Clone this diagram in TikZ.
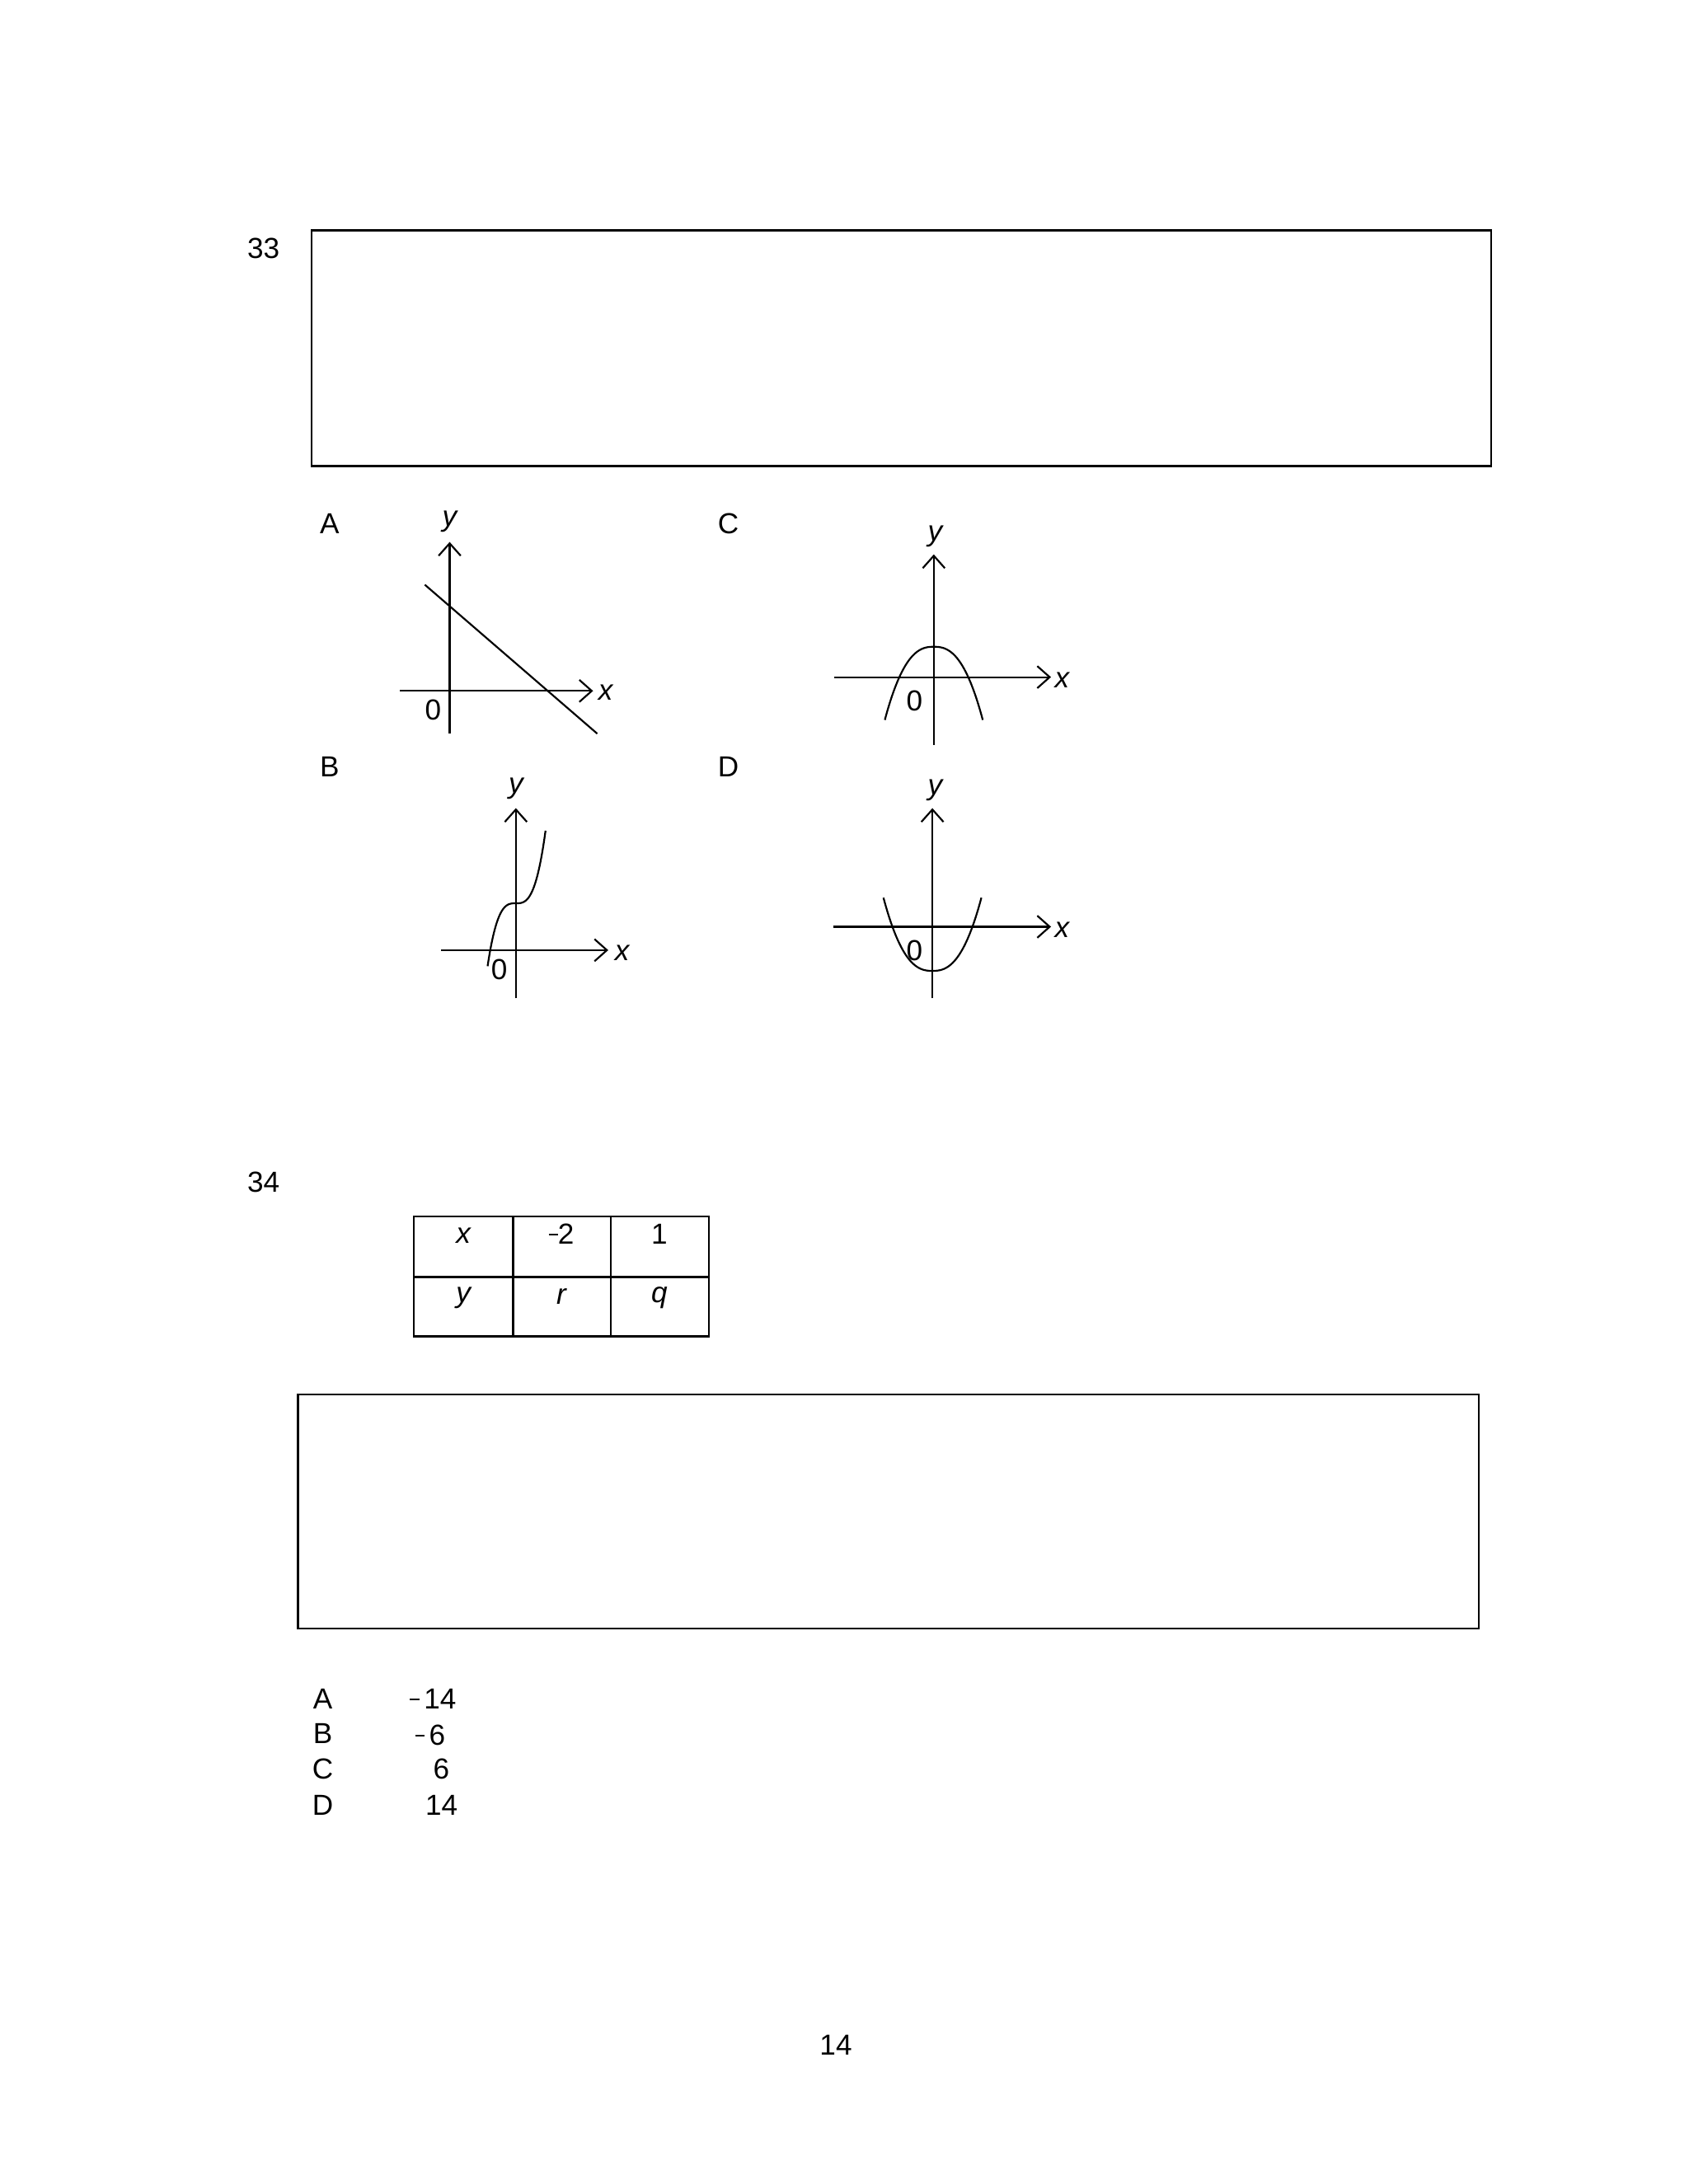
\documentclass[tikz,border=0pt]{standalone}
\usepackage{fontspec}
\setmainfont{Liberation Sans}
\usetikzlibrary{arrows.meta}
\newcommand{\shortminus}{\raisebox{0.3em}{\rule{0.32em}{1.2pt}}}
\begin{document}
\begin{tikzpicture}[x=1pt,y=-1pt,
  every node/.style={font=\fontsize{21}{25}\selectfont, inner sep=0pt},
  box/.style={line width=1.4pt},
  ax/.style={line width=1.3pt,-{Straight Barb[length=9pt,width=16pt,line width=1.3pt]}},
  crv/.style={line width=1.3pt},
  lbl/.style={font=\fontsize{21}{25}\selectfont\itshape}]
\useasboundingbox (0,0) rectangle (1224,1583.7);
\fill[white] (0,0) rectangle (1224,1583.7);
\node (q33) at (191,180) {33};
\draw[box] (226,167) rectangle (1081,338);
% A
\node (la) at (239,380) {A};
\draw[ax] (326,532) -- (326,393);
\node[lbl] (ya) at (326,378) {y};
\draw[ax] (290,501) -- (430,501);
\node[lbl] (xa) at (439,502) {x};
\node (oa) at (314,515) {0};
\draw[crv] (308,424) -- (433,532);
% C
\node (lc) at (528,380) {C};
\draw[ax] (677,540) -- (677,402);
\node[lbl] (yc) at (678,389) {y};
\draw[ax] (605,491) -- (762,491);
\node[lbl] (xc) at (770,493) {x};
\node (oc) at (663,508) {0};
\draw[crv,domain=-35.5:35.5,samples=80] plot ({677+\x},{469+0.00706*pow(abs(\x),2.5)});
% B
\node (lb) at (239,556) {B};
\draw[ax] (374,724) -- (374,586);
\node[lbl] (yb) at (374,572) {y};
\draw[ax] (320,689) -- (441,689);
\node[lbl] (xb) at (451,691) {x};
\node (ob) at (362,703) {0};
\draw[crv,domain=-20.5:21.5,samples=80] plot ({374+\x},{655-0.0053*\x*\x*\x});
% D
\node (ld) at (528,556) {D};
\draw[ax] (676,724) -- (676,586);
\node[lbl] (yd) at (678,573) {y};
\draw[ax] (604,672) -- (762,672);
\node[lbl] (xd) at (770,674) {x};
\node (od) at (663,689) {0};
\draw[crv,domain=-35.5:35.5,samples=80] plot ({676+\x},{704-0.00706*pow(abs(\x),2.5)});
% 34
\node (q34) at (191,857) {34};
\draw[box] (300,882) rectangle (514,969);
\draw[box] (300,926) -- (514,926);
\draw[box] (372,882) -- (372,969);
\draw[box] (443,882) -- (443,969);
\node[lbl] (t1) at (336,896) {x};
\node (t2) at (407,895) {\shortminus2};
\node (t3) at (478,895) {1};
\node[lbl] (t4) at (336,941) {y};
\node[lbl] (t5) at (407,940) {r};
\node[lbl] (t6) at (478,941) {q};
\draw[box] (216,1011) rectangle (1072,1181);
\node (aa) at (234,1232) {A};
\node (ab) at (234,1257) {B};
\node (ac) at (234,1283) {C};
\node (ad) at (234,1309) {D};
\node[anchor=east] (va) at (331,1232) {\shortminus\,14};
\node[anchor=east] (vb) at (323,1258) {\shortminus\,6};
\node[anchor=east] (vc) at (326,1283) {6};
\node[anchor=east] (vd) at (332,1309) {14};
\node (pg) at (606,1483) {14};
\end{tikzpicture}
\end{document}
